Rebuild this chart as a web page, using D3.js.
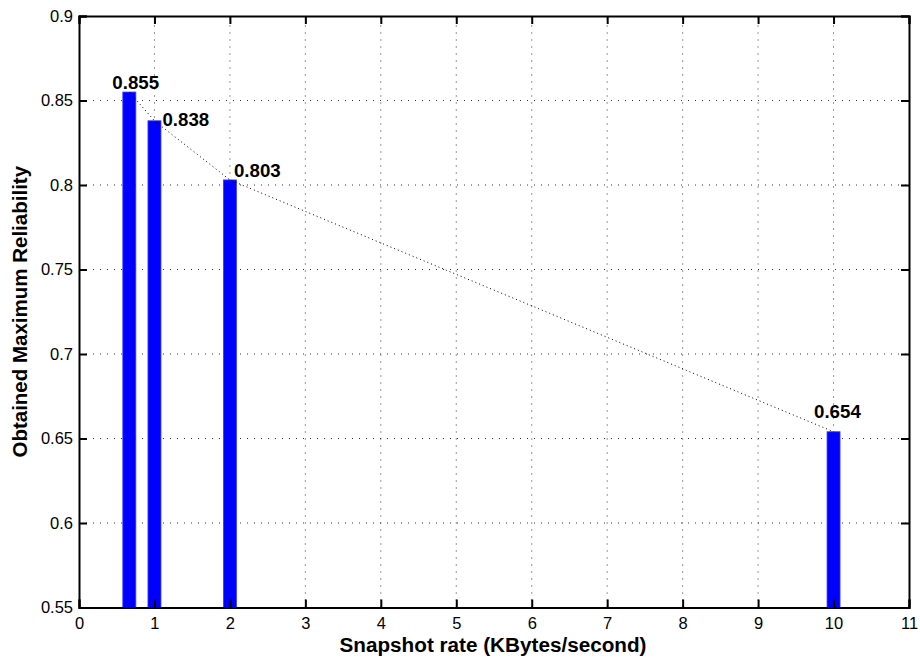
<!DOCTYPE html>
<html>
<head>
<meta charset="utf-8">
<script src="https://cdn.jsdelivr.net/npm/d3@7"></script>
<style>
  body { margin: 0; background: #fff; }
  svg { font-family: Arial, "Liberation Sans", sans-serif; }
</style>
</head>
<body>
<svg width="920" height="660"></svg>
<script>
const rates = [0.667, 1, 2, 10];
const reliability = [0.855, 0.838, 0.803, 0.654];
const valueLabels = ['0.855', '0.838', '0.803', '0.654'];
const xTicks = [0, 1, 2, 3, 4, 5, 6, 7, 8, 9, 10, 11];
const yTicks = [0.55, 0.6, 0.65, 0.7, 0.75, 0.8, 0.85, 0.9];

// label placement relative to bar top (px)
const labelOffsets = [[-17, -3.5], [8, 5], [4, -3], [-19.5, -14]];

const svg = d3.select('svg');
const plotLeft = 79, plotRight = 909, plotTop = 16, plotBottom = 607.5;

const x = d3.scaleLinear().domain([0, 11]).range([plotLeft, plotRight]);
const y = d3.scaleLinear().domain([0.55, 0.9]).range([plotBottom, plotTop]);

// grid
const grid = svg.append('g')
    .attr('stroke', '#333')
    .attr('stroke-width', 1)
    .attr('stroke-dasharray', '1,6');
xTicks.slice(1, -1).forEach(t => grid.append('line')
    .attr('x1', x(t)).attr('x2', x(t))
    .attr('y1', plotBottom).attr('y2', plotTop));
yTicks.slice(1, -1).forEach(t => grid.append('line')
    .attr('x1', plotLeft).attr('x2', plotRight)
    .attr('y1', y(t)).attr('y2', y(t)));

// bars
const barW = 13;
svg.append('g').selectAll('rect')
    .data(rates)
    .join('rect')
    .attr('x', d => x(d) - barW / 2)
    .attr('width', barW)
    .attr('y', (d, i) => y(reliability[i]))
    .attr('height', (d, i) => plotBottom - y(reliability[i]))
    .attr('fill', '#0000ff')
    .attr('stroke', '#3a3aff')
    .attr('stroke-width', 0.8);

// connecting dotted line
const line = d3.line()
    .x(d => x(d[0]))
    .y(d => y(d[1]));
svg.append('path')
    .attr('d', line(rates.map((r, i) => [r, reliability[i]])))
    .attr('fill', 'none')
    .attr('stroke', '#000')
    .attr('stroke-width', 1)
    .attr('stroke-dasharray', '1,3');

// value labels
svg.append('g').selectAll('text')
    .data(valueLabels)
    .join('text')
    .attr('x', (d, i) => x(rates[i]) + labelOffsets[i][0])
    .attr('y', (d, i) => y(reliability[i]) + labelOffsets[i][1])
    .attr('font-size', 18.7)
    .attr('font-weight', 'bold')
    .text(d => d);

// axes with inward ticks on all sides
const tickLen = 8;
const axisG = svg.append('g');
axisG.append('g')
    .attr('transform', `translate(0,${plotBottom})`)
    .call(d3.axisBottom(x).tickValues(xTicks).tickSize(-tickLen).tickPadding(10).tickFormat(d3.format('d')));
axisG.append('g')
    .attr('transform', `translate(0,${plotTop})`)
    .call(d3.axisTop(x).tickValues(xTicks).tickSize(-tickLen).tickFormat(''));
axisG.append('g')
    .attr('transform', `translate(${plotLeft},0)`)
    .call(d3.axisLeft(y).tickValues(yTicks).tickSize(-tickLen).tickPadding(6).tickFormat(d => String(+d.toFixed(2))));
axisG.append('g')
    .attr('transform', `translate(${plotRight},0)`)
    .call(d3.axisRight(y).tickValues(yTicks).tickSize(-tickLen).tickFormat(''));

axisG.selectAll('.domain').attr('stroke', '#000').attr('stroke-width', 2);
axisG.selectAll('.tick line').attr('stroke', '#000').attr('stroke-width', 2);
axisG.selectAll('.tick text')
    .attr('font-size', 16.5)
    .attr('font-family', 'Arial, "Liberation Sans", sans-serif')
    .attr('fill', '#000');

// axis titles
svg.append('text')
    .attr('x', 493)
    .attr('y', 651.5)
    .attr('text-anchor', 'middle')
    .attr('font-size', 20.7)
    .attr('font-weight', 'bold')
    .text('Snapshot rate (KBytes/second)');

svg.append('text')
    .attr('transform', `translate(27,${(plotTop + plotBottom) / 2}) rotate(-90)`)
    .attr('text-anchor', 'middle')
    .attr('font-size', 20.5)
    .attr('font-weight', 'bold')
    .text('Obtained Maximum Reliability');
</script>
</body>
</html>
